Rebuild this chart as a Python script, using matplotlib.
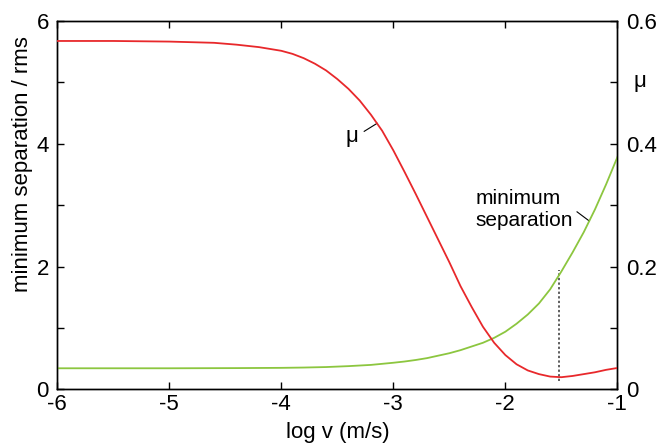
import matplotlib
matplotlib.use("Agg")
from matplotlib import pyplot as plt
from matplotlib.ticker import MultipleLocator

plt.rcParams['font.family'] = ['Liberation Sans', 'DejaVu Sans']

# log sliding velocity (m/s) and friction coefficient
log_v_mu = [-6.0, -5.5, -5.0, -4.6, -4.4, -4.2, -4.0, -3.9, -3.8, -3.7,
            -3.6, -3.5, -3.4, -3.3, -3.2, -3.1, -3.0, -2.9, -2.8, -2.7,
            -2.6, -2.5, -2.4, -2.3, -2.2, -2.1, -2.0, -1.9, -1.8, -1.7,
            -1.6, -1.5, -1.4, -1.3, -1.2, -1.1, -1.0]
mu = [0.567, 0.567, 0.566, 0.564, 0.561, 0.557, 0.551, 0.546, 0.539, 0.530,
      0.519, 0.505, 0.489, 0.470, 0.447, 0.421, 0.389, 0.354, 0.318, 0.281,
      0.244, 0.207, 0.168, 0.134, 0.102, 0.076, 0.056, 0.041, 0.031, 0.025,
      0.021, 0.020, 0.022, 0.025, 0.028, 0.032, 0.035]

# log sliding velocity (m/s) and minimum separation / rms roughness
log_v_sep = [-6.0, -5.0, -4.4, -4.0, -3.8, -3.6, -3.4, -3.2, -3.0, -2.9,
             -2.8, -2.7, -2.6, -2.5, -2.4, -2.3, -2.2, -2.1, -2.0, -1.9,
             -1.8, -1.7, -1.6, -1.5, -1.4, -1.3, -1.2, -1.1, -1.0]
sep = [0.345, 0.345, 0.348, 0.352, 0.357, 0.365, 0.38, 0.40, 0.435, 0.455,
       0.48, 0.51, 0.55, 0.59, 0.64, 0.70, 0.76, 0.84, 0.94, 1.07,
       1.22, 1.40, 1.63, 1.92, 2.23, 2.56, 2.93, 3.34, 3.78]

# position of the friction minimum
v_min = -1.52
sep_at_min = 1.94

red = '#e8282b'
green = '#8cc63f'

fig = plt.figure(figsize=(6.66, 4.43), dpi=100)
ax = fig.add_axes([0.086, 0.1208, 0.841, 0.8325])
ax2 = ax.twinx()

ax.plot(log_v_sep, sep, color=green, lw=1.3, zorder=3)
ax2.plot(log_v_mu, mu, color=red, lw=1.3, zorder=3)
ax.plot([v_min, v_min], [0.13, sep_at_min], color='#333333', lw=1.1,
        ls=(0, (1.5, 1.5)), zorder=2)

ax.set_xlim(-6, -1)
ax.set_ylim(0, 6)
ax2.set_ylim(0, 0.6)

ax.yaxis.set_minor_locator(MultipleLocator(1))
ax2.yaxis.set_minor_locator(MultipleLocator(0.1))

ax.tick_params(axis='both', which='both', direction='in', labelsize=16,
               top=True, length=5, width=1)
ax.tick_params(axis='y', which='both', right=False, pad=6)
ax2.tick_params(axis='y', which='both', direction='in', labelsize=16,
                length=5, width=1, pad=6)
ax.set_xticks(range(-6, 0))
ax.set_xticklabels(['-6', '-5', '-4', '-3', '-2', '-1'])
ax.set_yticks([0, 2, 4, 6])
ax.set_yticklabels(['0', '2', '4', '6'])
ax2.set_yticks([0, 0.2, 0.4, 0.6])
ax2.set_yticklabels(['0', '0.2', '0.4', '0.6'])

for a in (ax, ax2):
    for s in a.spines.values():
        s.set_linewidth(1.0)

ax.set_xlabel('log v (m/s)', fontsize=16, labelpad=5)
ax.set_ylabel('minimum separation / rms', fontsize=16)
ax.yaxis.set_label_coords(-0.043, 0.61)

# curve labels with short leader lines
ax.text(-3.37, 4.12, 'μ', fontsize=16, ha='center', va='center')
ax.plot([-3.26, -3.145], [4.20, 4.33], color='black', lw=0.8)
ax.text(-2.27, 2.93, 'minimum\nseparation', fontsize=15, ha='left',
        va='center', linespacing=1.25)
ax.plot([-1.36, -1.25], [2.89, 2.74], color='black', lw=0.8)

fig.text(0.961, 0.815, 'μ', fontsize=16, ha='center', va='center')

fig.savefig('out.png', dpi=100)
